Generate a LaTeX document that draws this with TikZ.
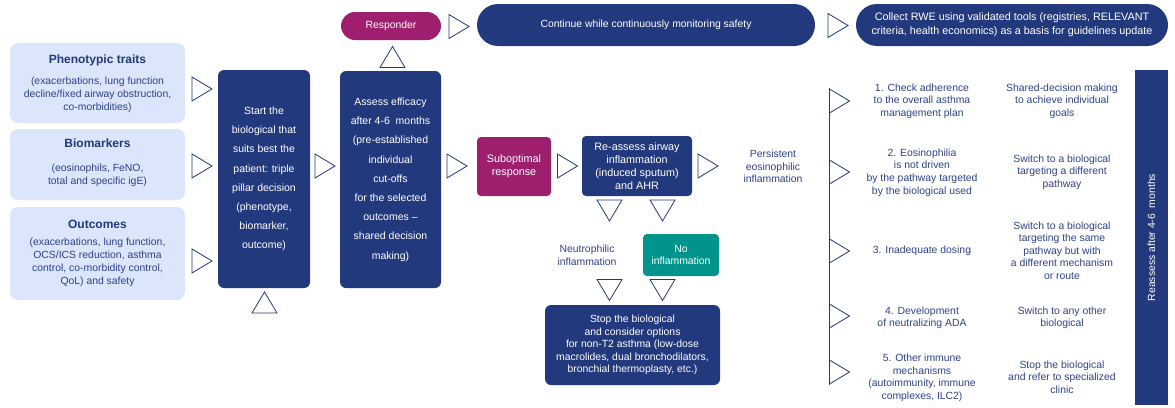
\documentclass[tikz,border=0pt]{standalone}
\usepackage{fontspec}
\setmainfont{Liberation Sans}
\usetikzlibrary{positioning}
\definecolor{navy}{RGB}{35,57,125}
\definecolor{navytext}{RGB}{45,65,140}
\definecolor{lightb}{RGB}{219,230,252}
\definecolor{magent}{RGB}{158,31,110}
\definecolor{teal}{RGB}{0,148,140}
\def\rtri#1#2{\draw[tri,shift={(#1,#2)}] (-10,-12) -- (10,0) -- (-10,12) -- cycle;}
\def\dtri#1#2{\draw[tri,shift={(#1,#2)}] (-12.5,-10.5) -- (12.5,-10.5) -- (0,10.5) -- cycle;}
\def\utri#1#2{\draw[tri,shift={(#1,#2)}] (-12.5,10.5) -- (12.5,10.5) -- (0,-10.5) -- cycle;}

\begin{document}
\begin{tikzpicture}[%
        x=1pt, y=-1pt,
        every node/.style={font=\fontsize{10.4}{12.6}\selectfont, align=center, inner sep=0pt},
        darkbox/.style={fill=navy, text=white, rounded corners=6pt},
        lightbox/.style={fill=lightb, rounded corners=8pt},
        ltitle/.style={text=navy, font=\fontsize{12}{14}\selectfont\bfseries},
        ltext/.style={text=navytext, font=\fontsize{10.4}{13}\selectfont},
        tall/.style={font=\fontsize{10.5}{19.2}\selectfont},
        plain/.style={text=navytext},
        tri/.style={draw=navy, line width=0.8pt, fill=white, line join=miter}
      ]
      \useasboundingbox (0,0) rectangle (1175,407);
      % top row
      \node[darkbox, fill=magent, minimum width=100, minimum height=28, rounded corners=14pt] (resp) at (391,26) {Responder};
      \node[darkbox, minimum width=338, minimum height=42, rounded corners=21pt] (cont) at (646,25) {Continue while continuously monitoring safety};
      \node[darkbox, minimum width=312, minimum height=42, rounded corners=21pt, font=\fontsize{10.8}{14}\selectfont] (rwe) at (1012,25)
        {Collect RWE using validated tools (registries, RELEVANT\\criteria, health economics) as a basis for guidelines update};
      % left column
      \node[lightbox, minimum width=175, minimum height=80] (pheno) at (97.5,83) {};
      \node[ltitle] (phenot) at (97.5,60) {Phenotypic traits};
      \node[ltext] (phenob) at (97.5,95) {(exacerbations, lung function\\decline/fixed airway obstruction,\\co-morbidities)};
      \node[lightbox, minimum width=175, minimum height=71] (bio) at (97.5,164.5) {};
      \node[ltitle] (biot) at (97.5,143) {Biomarkers};
      \node[ltext] (biob) at (97.5,175.5) {(eosinophils, FeNO,\\total and specific igE)};
      \node[lightbox, minimum width=175, minimum height=93] (outc) at (97.5,253.5) {};
      \node[ltitle] (outct) at (97.5,224) {Outcomes};
      \node[ltext] (outcb) at (97.5,262) {(exacerbations, lung function,\\OCS/ICS reduction, asthma\\control, co-morbidity control,\\QoL) and safety};
      % main boxes
      \node[darkbox, tall, minimum width=92, minimum height=218] (start) at (264,179)
        {Start the\\biological that\\suits best the\\patient: triple\\pillar decision\\(phenotype,\\biomarker,\\outcome)};
      \node[darkbox, tall, minimum width=101, minimum height=217] (assess) at (390.5,179.5)
        {Assess efficacy\\after 4-6~ months\\(pre-established\\individual\\cut-offs\\for the selected\\outcomes –\\shared decision\\making)};
      \node[darkbox, fill=magent, minimum width=74, minimum height=59, rounded corners=4pt, font=\fontsize{10.8}{13}\selectfont] (subopt) at (514,166.5) {Suboptimal\\response};
      \node[darkbox, minimum width=110, minimum height=60, rounded corners=4pt, font=\fontsize{10.8}{12.8}\selectfont] (reass) at (637,166)
        {Re-assess airway\\inflammation\\(induced sputum)\\and AHR};
      \node[plain] (persist) at (773,166.5) {Persistent\\eosinophilic\\inflammation};
      \node[plain] (neutro) at (587,255) {Neutrophilic\\inflammation};
      \node[darkbox, fill=teal, minimum width=76, minimum height=42, rounded corners=4pt] (noinf) at (681,255) {No\\inflammation};
      \node[darkbox, minimum width=175, minimum height=80] (stop) at (632.5,345)
        {Stop the biological\\and consider options\\for non-T2 asthma (low-dose\\macrolides, dual bronchodilators,\\bronchial thermoplasty, etc.)};
      % right side
      \node[darkbox, minimum width=33, minimum height=335, rounded corners=0pt] (bar) at (1151.5,237.5) {};
      \node[text=white, rotate=90] (bartext) at (bar.center) {Reassess after 4-6~ months};
      \coordinate (vtop) at (829,88);
      \coordinate (vbot) at (829,385);
      \draw[navy, line width=0.8pt] (vtop) -- (vbot);
      \foreach \yy in {101,172,251,316,372} {\rtri{839.5}{\yy}}
      \node[plain] (c1) at (922,101) {1. Check adherence\\to the overall asthma\\management plan};
      \node[plain] (c2) at (922,172.5) {2. Eosinophilia\\is not driven\\by the pathway targeted\\by the biological used};
      \node[plain] (c3) at (922,251) {3. Inadequate dosing};
      \node[plain] (c4) at (922,318) {4. Development\\of neutralizing ADA};
      \node[plain] (c5) at (922,378) {5. Other immune\\mechanisms\\(autoimmunity, immune\\complexes, ILC2)};
      \node[plain] (a1) at (1062,101) {Shared-decision making\\to achieve individual\\goals};
      \node[plain] (a2) at (1062,172) {Switch to a biological\\targeting a different\\pathway};
      \node[plain] (a3) at (1062,250.5) {Switch to a biological\\targeting the same\\pathway but with\\a different mechanism\\or route};
      \node[plain] (a4) at (1062,318) {Switch to any other\\biological};
      \node[plain] (a5) at (1062,377) {Stop the biological\\and refer to specialized\\clinic};
      % triangles
      \rtri{202}{89} \rtri{202}{166} \rtri{202}{261}
      \utri{264.5}{302.5}
      \rtri{325}{166}
      \utri{392.5}{57}
      \rtri{459}{26.5}
      \rtri{838}{25.5}
      \rtri{457}{166}
      \rtri{567.5}{166}
      \dtri{609.5}{210.5} \dtri{662.5}{210.5}
      \rtri{708}{166}
      \dtri{609.5}{290} \dtri{662.5}{290}
  \end{tikzpicture}
\end{document}
